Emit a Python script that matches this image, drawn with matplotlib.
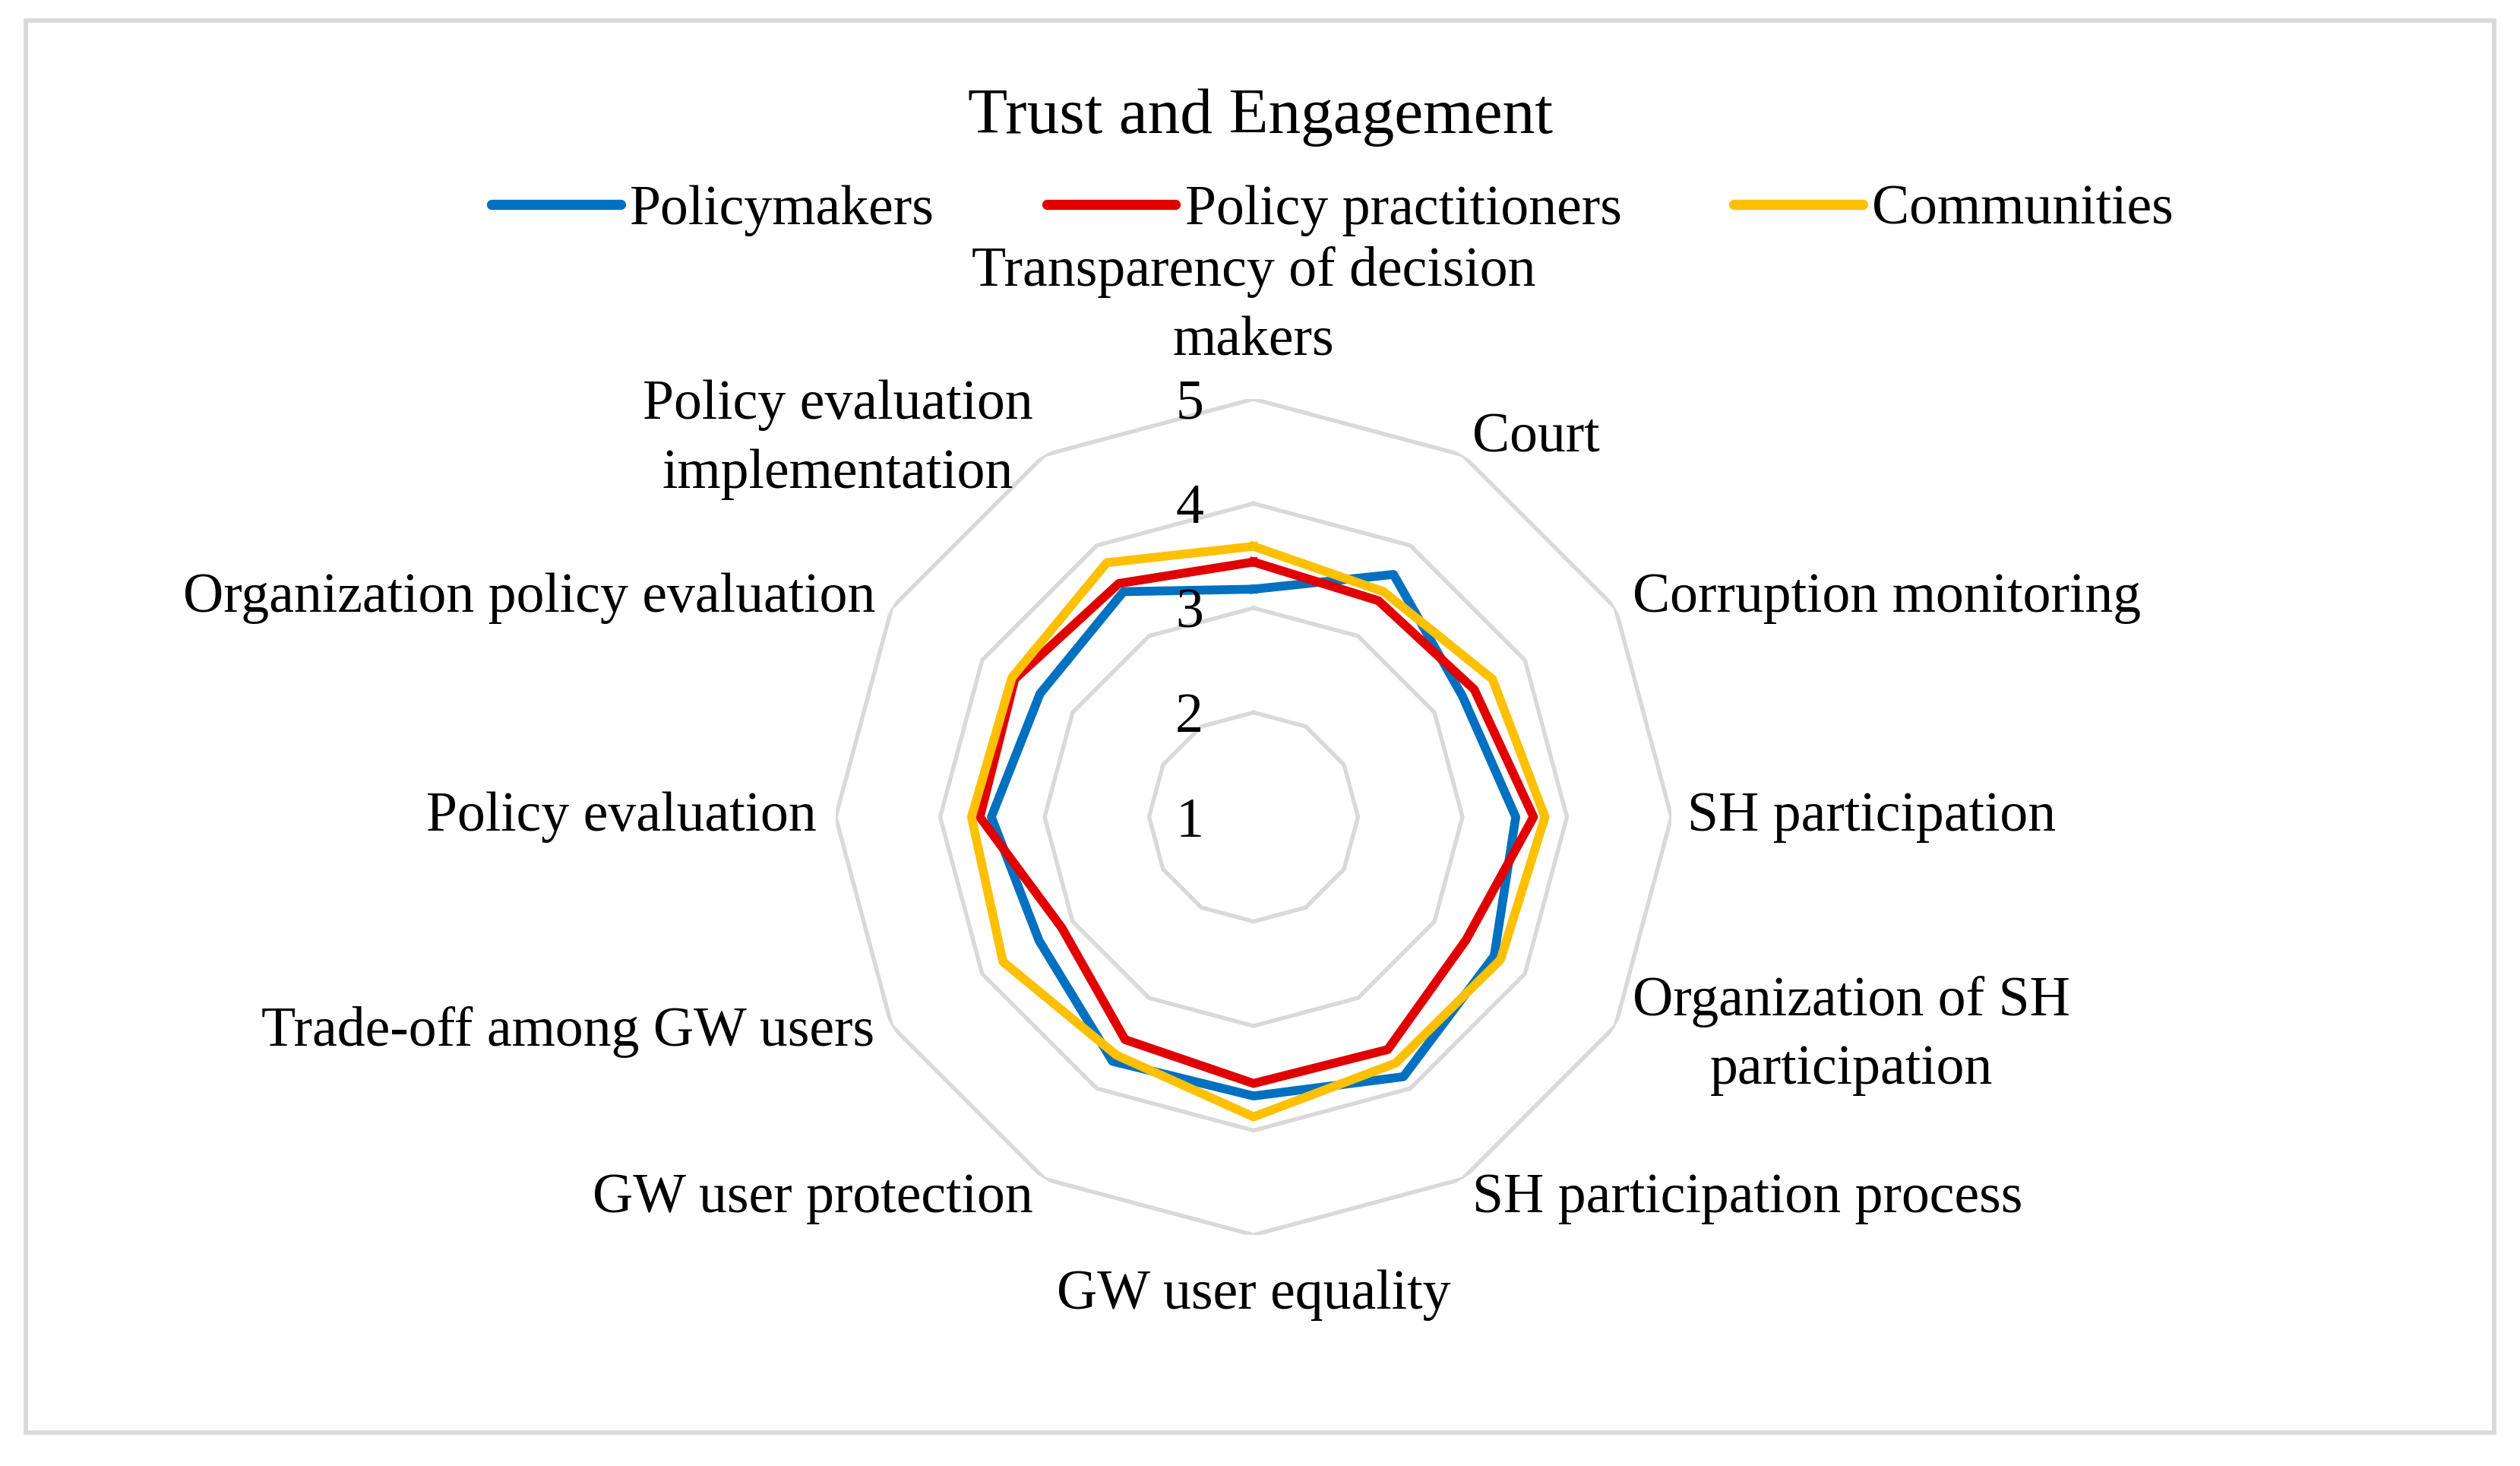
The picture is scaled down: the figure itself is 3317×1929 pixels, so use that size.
import numpy as np
import matplotlib.pyplot as plt
from matplotlib.lines import Line2D
from matplotlib.patches import Rectangle

plt.rcParams['font.family'] = ['Liberation Serif', 'DejaVu Serif']

categories = ['Transparency of decision\nmakers', 'Court', 'Corruption monitoring',
              'SH participation', 'Organization of SH\nparticipation',
              'SH participation process', 'GW user equality', 'GW user protection',
              'Trade-off among GW users', 'Policy evaluation',
              'Organization policy evaluation', 'Policy evaluation\nimplementation']
policymakers = [3.18, 3.68, 3.31, 3.51, 3.66, 3.87, 3.67, 3.70, 3.37, 3.51, 3.36, 3.49]
practitioners = [3.44, 3.39, 3.44, 3.68, 3.35, 3.57, 3.55, 3.46, 3.12, 3.62, 3.64, 3.58]
communities = [3.59, 3.49, 3.64, 3.79, 3.73, 3.72, 3.87, 3.63, 3.77, 3.70, 3.67, 3.81]
series_names = ['Policymakers', 'Policy practitioners', 'Communities']
colors = ['#0070C0', '#E00000', '#FFC000']
rings = [1, 2, 3, 4, 5]

W, H = 3317, 1929
fig = plt.figure(figsize=(W / 300, H / 300), dpi=300)

# chart border
fig.patches.append(Rectangle((34 / W, 1 - 1885 / H), (3283 - 34) / W, (1885 - 27) / H,
                             transform=fig.transFigure, fill=False,
                             edgecolor='#D9D9D9', linewidth=1.4))

cx, cy, R = 1650, 1075, 550
ax = fig.add_axes([(cx - R) / W, (H - cy - R) / H, 2 * R / W, 2 * R / H], projection='polar')
ax.set_theta_offset(np.pi / 2)
ax.set_theta_direction(-1)
ax.set_ylim(1, 5)
ax.grid(False)
ax.set_xticks([])
ax.set_yticks([])
ax.spines['polar'].set_visible(False)
ax.patch.set_alpha(0)

n = len(categories)
theta = np.linspace(0, 2 * np.pi, n, endpoint=False)
theta_c = np.append(theta, theta[0])

# polygon grid
for r in rings[1:]:
    ax.plot(theta_c, [r] * (n + 1), color='#D9D9D9', lw=1.3, zorder=1)

for vals, c, name in zip([policymakers, practitioners, communities], colors, series_names):
    ax.plot(theta_c, vals + vals[:1], color=c, lw=2.8, solid_joinstyle='round', zorder=3, label=name)

fs = 17.7

# axis numbers
for r in rings:
    ax.annotate(str(r), xy=(0, r), xytext=(-66, -8), textcoords='offset pixels',
                ha='right', va='center', fontsize=fs, annotation_clip=False)

# category labels (ha, va, dx, dy in pixels)
label_pos = [('center', 'bottom', 0, 42),
             ('left', 'bottom', 13, -12),
             ('left', 'center', 23, 13),
             ('left', 'center', 21, 0),
             ('left', 'center', 23, -13),
             ('left', 'top', 13, 8),
             ('center', 'top', 0, -45),
             ('right', 'top', -15, 8),
             ('right', 'center', -23, -8),
             ('right', 'center', -25, 0),
             ('right', 'center', -21, 13),
             ('right', 'center', -15, 20)]
for t, lab, (ha, va, dx, dy) in zip(theta, categories, label_pos):
    ax.annotate(lab, xy=(t, 5), xytext=(dx, dy), textcoords='offset pixels',
                ha=ha, va=va, multialignment='center', fontsize=fs,
                linespacing=1.45, annotation_clip=False)

fig.text(1659.5 / W, 1 - 175 / H, 'Trust and Engagement', ha='center', va='baseline', fontsize=20.5)

handles = [Line2D([], [], color=c, lw=3.2, solid_capstyle='round') for c in colors]
fig.legend(handles, series_names, loc='center', bbox_to_anchor=(1754 / W, 1 - 277 / H),
           ncol=3, frameon=False, fontsize=fs, handlelength=2.3, handletextpad=0.17,
           columnspacing=2.0)

fig.savefig('out.png', dpi=300, facecolor='white')
